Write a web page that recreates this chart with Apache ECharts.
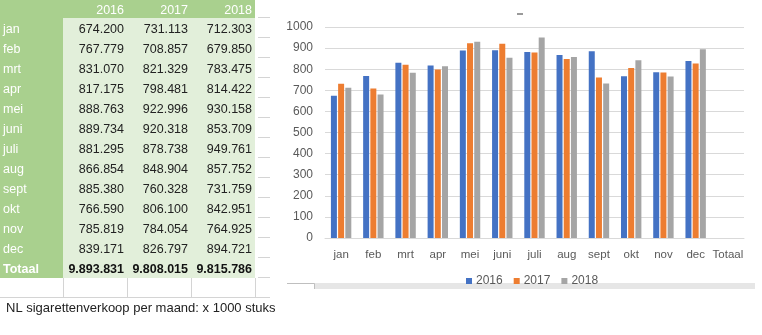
<!DOCTYPE html>
<html>
<head>
<meta charset="utf-8">
<script src="https://cdn.jsdelivr.net/npm/echarts@6/dist/echarts.min.js"></script>
<style>
html,body{margin:0;padding:0;background:#fff;}
#c{width:762px;height:335px;}
</style>
</head>
<body>
<div id="c"></div>
<script>
// ---- data ----
var months = ['jan','feb','mrt','apr','mei','juni','juli','aug','sept','okt','nov','dec'];
var chartCategories = ['jan','feb','mrt','apr','mei','juni','juli','aug','sept','okt','nov','dec','Totaal'];
var years = ['2016','2017','2018'];
var v2016 = [674200,767779,831070,817175,888763,889734,881295,866854,885380,766590,785819,839171];
var v2017 = [731113,708857,821329,798481,922996,920318,878738,848904,760328,806100,784054,826797];
var v2018 = [712303,679850,783475,814422,930158,853709,949761,857752,731759,842951,764925,894721];
var totals = [9893831,9808015,9815786];
var totalLabel = 'Totaal';
var caption = 'NL sigarettenverkoop per maand: x 1000 stuks';

// ---- helpers ----
function fmt(n){ return String(n).replace(/\B(?=(\d{3})+(?!\d))/g,'.'); }
function toK(arr){ return arr.map(function(v){ return v/1000; }); }

var FONT = '"Liberation Sans", Arial, sans-serif';
var dark = '#a9d08e', light = '#e2efda', white = '#ffffff';
var colX = [0,63,127,191,255];
var rowTop = function(r){ return r===0 ? 0 : 18 + 20*(r-1); };
var rowBot = function(r){ return 18 + 20*r; };

var g = [];
// backgrounds
g.push({type:'rect', shape:{x:0,y:0,width:255,height:18}, style:{fill:dark}, silent:true});
g.push({type:'rect', shape:{x:0,y:18,width:63,height:260}, style:{fill:dark}, silent:true});
g.push({type:'rect', shape:{x:63,y:18,width:192,height:260}, style:{fill:light}, silent:true});
// empty row borders
var lineStyle = {stroke:'#d4d4d4', lineWidth:1};
for (var i=1;i<colX.length;i++){
  g.push({type:'line', shape:{x1:colX[i]+0.5,y1:278,x2:colX[i]+0.5,y2:297}, style:lineStyle, silent:true});
}
g.push({type:'line', shape:{x1:0,y1:297.5,x2:270,y2:297.5}, style:lineStyle, silent:true});
// short grid lines right of table
for (var r=0;r<=14;r++){
  var yy = 18 + 20*r - 0.5;
  if (r===14) yy = 297.5;
  g.push({type:'line', shape:{x1:258,y1:yy,x2:270,y2:yy}, style:lineStyle, silent:true});
}
// header
years.forEach(function(yr, j){
  g.push({type:'text', x:colX[j+2]-3, y:11, style:{text:yr, fill:white, font:'12.5px '+FONT, textAlign:'right', textVerticalAlign:'middle'}, silent:true});
});
// rows
var cols = [v2016, v2017, v2018];
months.forEach(function(m, i){
  var cy = (rowTop(i+1)+rowBot(i+1))/2 + 2;
  g.push({type:'text', x:3, y:cy, style:{text:m, fill:white, font:'12.5px '+FONT, textAlign:'left', textVerticalAlign:'middle'}, silent:true});
  cols.forEach(function(c, j){
    g.push({type:'text', x:colX[j+2]-3, y:cy, style:{text:fmt(c[i]), fill:'#222', font:'12.5px '+FONT, textAlign:'right', textVerticalAlign:'middle'}, silent:true});
  });
});
var ty = (rowTop(13)+rowBot(13))/2 + 2;
g.push({type:'text', x:3, y:ty, style:{text:totalLabel, fill:white, font:'bold 12.5px '+FONT, textAlign:'left', textVerticalAlign:'middle'}, silent:true});
totals.forEach(function(t, j){
  g.push({type:'text', x:colX[j+2]-3, y:ty, style:{text:fmt(t), fill:'#111', font:'bold 12.5px '+FONT, textAlign:'right', textVerticalAlign:'middle'}, silent:true});
});
// caption
g.push({type:'text', x:6, y:308, style:{text:caption, fill:'#222', font:'13px '+FONT, textAlign:'left', textVerticalAlign:'middle'}, silent:true});
// chart decorations: title dash, scroll band, border corner
g.push({type:'rect', shape:{x:517,y:13,width:6,height:2}, style:{fill:'#9a9a9a'}, silent:true});
g.push({type:'rect', shape:{x:314,y:283,width:441,height:6}, style:{fill:'#e6e6e6'}, silent:true});
g.push({type:'polyline', shape:{points:[[287,283.5],[314.5,283.5],[314.5,289]]}, style:{stroke:'#bfbfbf', lineWidth:1, fill:null}, silent:true});

var chart = echarts.init(document.getElementById('c'), null, {renderer:'canvas'});
var colors = ['#4472c4','#ed7d31','#a5a5a5'];
var seriesData = [toK(v2016), toK(v2017), toK(v2018)];
chart.setOption({
  animation:false,
  color: colors,
  grid:{left:325, right:18, top:27, bottom:97, containLabel:false},
  legend:{
    data: years, left:461, top:270, itemWidth:6, itemHeight:6, itemGap:11,
    icon:'rect',
    textStyle:{fontFamily:FONT, fontSize:12, color:'#595959', padding:[0,0,0,-1]}
  },
  xAxis:{
    type:'category', data: chartCategories,
    axisLine:{lineStyle:{color:'#d9d9d9'}}, axisTick:{show:false},
    axisLabel:{fontFamily:FONT, fontSize:11.5, color:'#595959', margin:11, interval:0}
  },
  yAxis:{
    type:'value', min:0, max:1000, interval:100,
    axisLine:{show:false}, axisTick:{show:false},
    splitLine:{lineStyle:{color:'#d9d9d9'}},
    axisLabel:{fontFamily:FONT, fontSize:12, color:'#595959', margin:12, formatter:function(v){ return String(v); }}
  },
  series: years.map(function(yr, k){
    return {name:yr, type:'bar', data: seriesData[k], barWidth:6, barGap:'20%'};
  }),
  graphic: g
});
</script>
</body>
</html>
